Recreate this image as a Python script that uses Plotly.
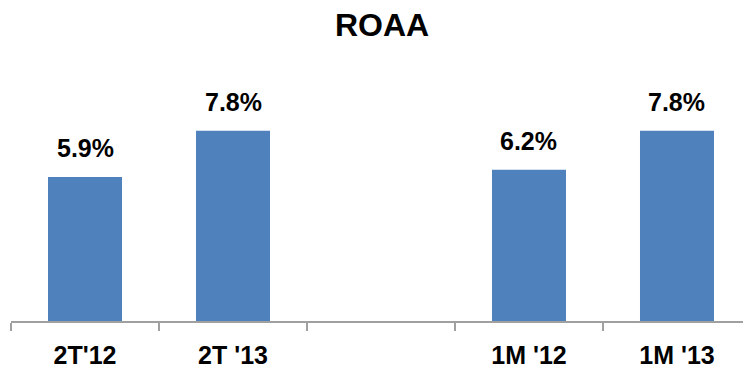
import plotly.graph_objects as go

# ROAA by period; the blank slot separates the quarterly and monthly groups
categories = ["2T'12", "2T '13", " ", "1M '12", "1M '13"]
roaa = [5.9, 7.8, None, 6.2, 7.8]

BAR_COLOR = "#4F81BD"
AXIS_COLOR = "#A0A0A0"
FONT = "Liberation Sans, Arial, sans-serif"

fig = go.Figure()
fig.add_trace(go.Bar(
    x=categories,
    y=roaa,
    marker=dict(color=BAR_COLOR, line=dict(width=0)),
    width=0.5,
    hoverinfo="skip",
))

# value labels above each bar
for cat, val in zip(categories, roaa):
    if val is None:
        continue
    fig.add_annotation(
        x=cat, y=val, text=f"<b>{val:.1f}%</b>",
        showarrow=False, yanchor="bottom", yshift=13,
        font=dict(family=FONT, size=25, color="black"),
    )

fig.update_layout(
    width=743, height=366,
    margin=dict(l=11, r=0, t=60, b=45),
    paper_bgcolor="white", plot_bgcolor="white",
    showlegend=False,
    title=dict(
        text="<b>ROAA</b>",
        x=382 / 743, xanchor="center", xref="container",
        y=1 - 25 / 366, yanchor="middle", yref="container",
        font=dict(family=FONT, size=32, color="black"),
    ),
    font=dict(family=FONT, color="black"),
)

fig.update_xaxes(
    type="category",
    categoryorder="array", categoryarray=categories,
    range=[-0.5, 4.446],
    automargin=False,
    showline=True, linecolor=AXIS_COLOR, linewidth=2,
    ticks="outside", tickson="boundaries",
    ticklen=8, tickwidth=2, tickcolor=AXIS_COLOR,
    tickfont=dict(family=FONT, size=25, color="black"),
    tickprefix="<b>", ticksuffix="</b>",
    ticklabelstandoff=11,
    showgrid=False, zeroline=False,
)
fig.update_yaxes(
    range=[0, 10.7],
    visible=False, showgrid=False, zeroline=False,
)

fig.write_html("out.html")
